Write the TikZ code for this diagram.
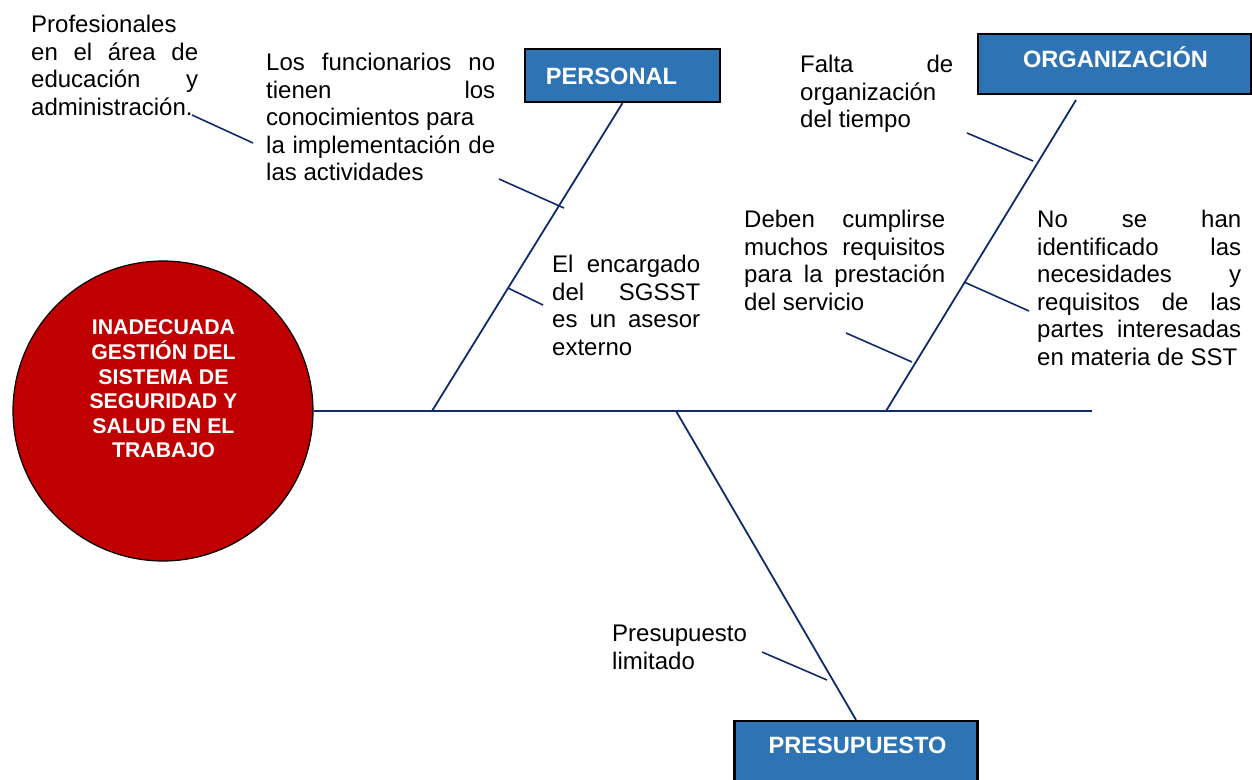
\documentclass[tikz,border=0pt]{standalone}
\usepackage{fontspec}
\setmainfont{Liberation Sans}
\definecolor{bonecol}{HTML}{0F2B6B}
\definecolor{boxblue}{HTML}{2E74B5}
\definecolor{effred}{HTML}{C00000}
\begin{document}
\begin{tikzpicture}[x=1pt,y=-1pt,
  bone/.style={draw=bonecol, line width=1.8pt},
  tickline/.style={draw=bonecol, line width=1.6pt},
  catbox/.style={rectangle, draw=black, line width=2.2pt, fill=boxblue, inner sep=0pt},
  cattext/.style={text=white, font=\fontsize{23.6}{27}\selectfont\bfseries, inner sep=0pt, anchor=base},
  cause/.style={anchor=north west, inner sep=0pt, align=justify, font=\fontsize{24}{27.6}\selectfont},
  efftext/.style={text=white, align=center, inner sep=0pt, font=\fontsize{21.3}{24.6}\selectfont\bfseries}
]
\useasboundingbox (0,0) rectangle (1252,779);

% effect
\node[circle, fill=effred, draw=black, line width=1.2pt, minimum size=300pt, inner sep=0pt] (effect) at (163,411) {};
\node[efftext] (efftxt) at (163.5,389) {INADECUADA\\GESTIÓN DEL\\SISTEMA DE\\SEGURIDAD Y\\SALUD EN EL\\TRABAJO};

% category boxes
\node[catbox, minimum width=195pt, minimum height=53pt] (personal) at (622.5,75.5) {};
\node[cattext] (personaltxt) at (611.5,84) {PERSONAL};
\node[catbox, minimum width=273pt, minimum height=60pt] (organizacion) at (1114.5,64) {};
\node[cattext] (organizaciontxt) at (1115.5,67.7) {ORGANIZACIÓN};
\node[catbox, minimum width=243pt, minimum height=62pt] (presupuesto) at (856,752) {};
\node[cattext] (presupuestotxt) at (857.5,753) {PRESUPUESTO};

% spine and bones
\coordinate (spineend) at (1092,411);
\coordinate (pj) at (432,411);
\coordinate (oj) at (886,411);
\coordinate (otop) at (1076,100);
\coordinate (prj) at (676,411);
\draw[bone] (effect.east) -- (spineend);
\draw[bone] (pj) -- (personal.south);
\draw[bone] (oj) -- (otop);
\draw[bone] (prj) -- (presupuesto.north);

% causes
\node[cause, text width=167pt] (c1) at (31,15) {Profesionales\newline en el área de\linebreak educación y\linebreak administración.};
\node[cause, text width=229pt] (c2) at (266,53) {Los funcionarios no\linebreak tienen los\linebreak conocimientos para\newline la implementación de\linebreak las actividades};
\node[cause, text width=148pt] (c3) at (552,255) {El encargado\linebreak del SGSST\linebreak es un asesor\linebreak externo};
\node[cause, text width=153pt] (c4) at (800,55) {Falta de\linebreak organización\newline del tiempo};
\node[cause, text width=201pt] (c5) at (744,210) {Deben cumplirse\linebreak muchos requisitos\linebreak para la prestación\linebreak del servicio};
\node[cause, text width=204pt] (c6) at (1037,210) {No se han\linebreak identificado las\linebreak necesidades y\linebreak requisitos de las\linebreak partes interesadas\linebreak en materia de SST};
\node[cause, align=left] (c7) at (612,625) {Presupuesto\\limitado};

% ticks
\coordinate (t1a) at (192,115); \coordinate (t1b) at (253,143);
\coordinate (t2a) at (499,179); \coordinate (t2b) at (564,208);
\coordinate (t3a) at (508,288); \coordinate (t3b) at (543,305);
\coordinate (t4a) at (967,133); \coordinate (t4b) at (1033,161);
\coordinate (t5a) at (846,333); \coordinate (t5b) at (912,362);
\coordinate (t6a) at (964,282); \coordinate (t6b) at (1029,311);
\coordinate (t7a) at (762,652); \coordinate (t7b) at (827,680);
\draw[tickline] (t1a) -- (t1b);
\draw[tickline] (t2a) -- (t2b);
\draw[tickline] (t3a) -- (t3b);
\draw[tickline] (t4a) -- (t4b);
\draw[tickline] (t5a) -- (t5b);
\draw[tickline] (t6a) -- (t6b);
\draw[tickline] (t7a) -- (t7b);
\end{tikzpicture}
\end{document}
